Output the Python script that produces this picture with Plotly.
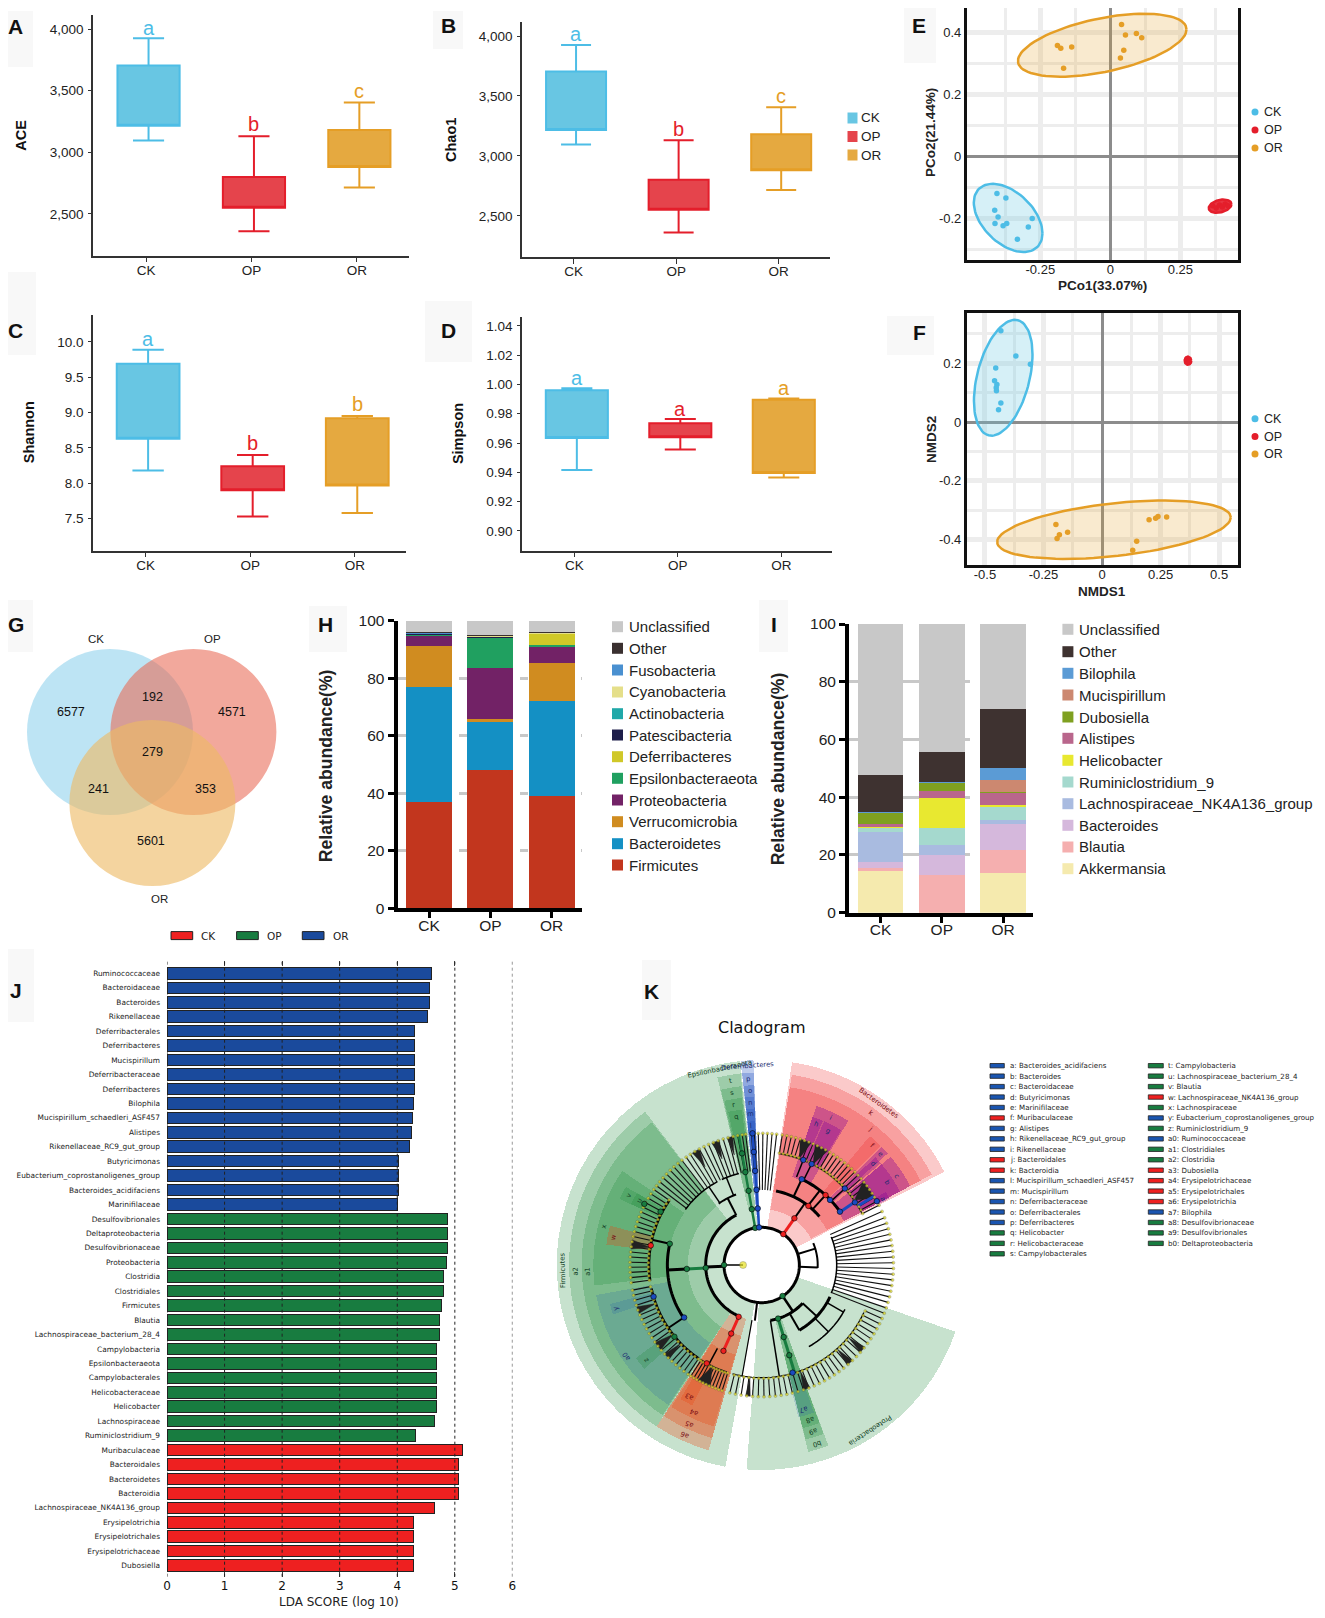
import math
import plotly.graph_objects as go

W, H = 1325, 1618
PAGE_MARGIN = 8
groups = ["CK", "OP", "OR"]
C_CK, C_OP, C_OR = "#4DBDE6", "#E41E2B", "#E59E26"
FILL = {"CK": "#68C6E3", "OP": "#E5444C", "OR": "#E5A940"}
LINE = {"CK": C_CK, "OP": C_OP, "OR": C_OR}

# ---- A-D box panels
ace_q1 = [3215, 2550, 2880]; ace_q3 = [3705, 2800, 3180]; ace_lo = [3095, 2360, 2715]; ace_hi = [3925, 3130, 3405]
ace_letters = ["a", "b", "c"]; ace_letter_y = [4012, 3226, 3500]
chao_q1 = [3215, 2550, 2880]; chao_q3 = [3705, 2800, 3180]; chao_lo = [3095, 2360, 2715]; chao_hi = [3925, 3130, 3405]
chao_letters = ["a", "b", "c"]; chao_letter_y = [4013, 3221, 3496]
shan_q1 = [8.63, 7.90, 7.97]; shan_q3 = [9.69, 8.24, 8.92]; shan_lo = [8.18, 7.53, 7.58]; shan_hi = [9.89, 8.40, 8.95]
shan_letters = ["a", "b", "b"]; shan_letter_y = [10.04, 8.57, 9.12]
simp_q1 = [0.9635, 0.964, 0.9395]; simp_q3 = [0.996, 0.9735, 0.9895]; simp_lo = [0.9415, 0.9555, 0.9365]; simp_hi = [0.9975, 0.9765, 0.9905]
simp_letters = ["a", "a", "a"]; simp_letter_y = [1.0045, 0.9835, 0.9978]

# ---- E/F ordination points
pcoa_ck_x = [-.405, -.373, -.413, -.401, -.412, -.383, -.370, -.293, -.279, -.332]
pcoa_ck_y = [-.118, -.133, -.172, -.194, -.215, -.222, -.215, -.226, -.199, -.266]
pcoa_or_x = [.040, .054, .093, .112, .048, .036, -.189, -.177, -.138, -.167]
pcoa_or_y = [.427, .393, .398, .384, .344, .319, .359, .350, .354, .286]
pcoa_op_x = [.365, .378, .39, .40, .41, .42]
pcoa_op_y = [-.158, -.165, -.155, -.162, -.152, -.158]
nmds_ck_x = [-.432, -.368, -.306, -.454, -.459, -.449, -.452, -.451, -.432, -.442]
nmds_ck_y = [.311, .225, .197, .184, .141, .128, .117, .107, .065, .042]
nmds_or_x = [-.197, -.182, -.192, -.147, .148, .131, .201, .229, .239, .276]
nmds_or_y = [-.348, -.383, -.396, -.375, -.405, -.436, -.332, -.327, -.321, -.323]
nmds_op_x = [.362, .369, .372]
nmds_op_y = [.214, .209, .205]
# confidence ellipses: centre x, centre y, half-width, half-height, correlation
pcoa_ell = {"CK": (-.365, -.197, .1226, .110, -.45), "OP": (.392, -.159, .0405, .0213, .3), "OR": (-.029, .360, .301, .1016, .5)}
nmds_ell = {"CK": (-.422, .151, .125, .197, .4), "OP": (.367, .209, .014, .014, 0), "OR": (.051, -.366, .499, .0993, .42)}

# ---- G Venn
venn_counts = ["6577", "192", "4571", "279", "241", "353", "5601"]

# ---- H phylum stack (bottom to top)
phylum_names = ["Firmicutes", "Bacteroidetes", "Verrucomicrobia", "Proteobacteria", "Epsilonbacteraeota", "Deferribacteres",
                "Patescibacteria", "Actinobacteria", "Cyanobacteria", "Fusobacteria", "Other", "Unclassified"]
phylum_colors = ["#C2361E", "#1490C4", "#D08C20", "#722266", "#20A060", "#D0C828", "#1E1E4A", "#20A8A8", "#E5DF8A", "#4A90D0", "#3A3030", "#C8C8C8"]
phylum_ck = [36.8, 40.3, 14.2, 3.5, .5, .1, .1, .2, .1, .05, .05, 4.1]
phylum_op = [48.1, 16.8, .8, 18, 10.4, .3, .2, .1, .1, .1, .3, 4.8]
phylum_or = [38.9, 33.1, 13.4, 5.8, .3, 4.2, .05, .05, .05, .05, .1, 4.0]

# ---- I genus stack (bottom to top)
genus_names = ["Akkermansia", "Blautia", "Bacteroides", "Lachnospiraceae_NK4A136_group", "Ruminiclostridium_9", "Helicobacter",
               "Alistipes", "Dubosiella", "Mucispirillum", "Bilophila", "Other", "Unclassified"]
genus_colors = ["#F5EAAE", "#F5AFAF", "#D5B8DC", "#A9BBE0", "#A5D9CE", "#E8E830", "#B9668C", "#7FA020", "#CC8870", "#5B9BD5", "#3E3230", "#C8C8C8"]
genus_ck = [14.3, 1.3, 1.9, 10.4, 1.5, .3, 1.1, 3.9, .1, .1, 12.7, 52.4]
genus_op = [.05, 13.15, 6.7, 3.7, 5.6, 10.5, 2.6, 2.8, .1, .1, 10.4, 44.3]
genus_or = [13.6, 8, 9, 1.5, 4.8, .4, 4.4, .15, 4.25, 4.1, 20.2, 29.6]

# ---- J LDA
lda_names = ["Ruminococcaceae", "Bacteroidaceae", "Bacteroides", "Rikenellaceae", "Deferribacterales", "Deferribacteres", "Mucispirillum",
             "Deferribacteraceae", "Deferribacteres", "Bilophila", "Mucispirillum_schaedleri_ASF457", "Alistipes", "Rikenellaceae_RC9_gut_group",
             "Butyricimonas", "Eubacterium_coprostanoligenes_group", "Bacteroides_acidifaciens", "Marinifilaceae",
             "Desulfovibrionales", "Deltaproteobacteria", "Desulfovibrionaceae", "Proteobacteria", "Clostridia", "Clostridiales", "Firmicutes",
             "Blautia", "Lachnospiraceae_bacterium_28_4", "Campylobacteria", "Epsilonbacteraeota", "Campylobacterales", "Helicobacteraceae",
             "Helicobacter", "Lachnospiraceae", "Ruminiclostridium_9",
             "Muribaculaceae", "Bacteroidales", "Bacteroidetes", "Bacteroidia", "Lachnospiraceae_NK4A136_group", "Erysipelotrichia",
             "Erysipelotrichales", "Erysipelotrichaceae", "Dubosiella"]
lda_vals = [4.59, 4.555, 4.555, 4.53, 4.30, 4.30, 4.30, 4.30, 4.30, 4.285, 4.27, 4.255, 4.215, 4.03, 4.025, 4.02, 4.005,
            4.88, 4.88, 4.87, 4.86, 4.81, 4.81, 4.765, 4.74, 4.74, 4.68, 4.68, 4.68, 4.68, 4.68, 4.65, 4.32,
            5.135, 5.06, 5.06, 5.06, 4.65, 4.285, 4.285, 4.285, 4.275]
lda_groups = ["OR"] * 17 + ["OP"] * 16 + ["CK"] * 9
LDA_COL = {"CK": "#EE2020", "OP": "#187C40", "OR": "#1A4A9C"}

# ---- K cladogram (r in ring units, theta in degrees clockwise from north)
ring_in = [112, 168, 222, 280, 338, 395]
ring_out = [615, 578, 540, 505, 470, 432]
clade_wedges = [("OP", 0, 268.3, 156.2), ("OP", 0, 146.6, 75.2), ("CK", 0, 35.75, 54.5), ("OP", 0, 350.2, 7.6), ("OR", 0, 355.9, 3.6),
                ("OP", 1, 267.9, 109.7), ("CKg", 1, 204.5, 17), ("CK", 1, 35.5, 53), ("OP", 1, 350.2, 7), ("OR", 1, 355.9, 3.4), ("OP", 1, 162.9, 6.3),
                ("OP", 2, 267.9, 109), ("CKg", 2, 204.5, 17), ("CK", 2, 35.5, 53), ("OP", 2, 350.2, 6.6), ("OR", 2, 355.9, 3.2), ("OP", 2, 162.9, 6),
                ("OP", 3, 283.5, 41), ("ORg", 3, 236.7, 46), ("CKg", 3, 204.5, 16), ("ORr", 3, 25, 12), ("CK", 3, 42.5, 5), ("ORr", 3, 47, 3),
                ("ORr", 3, 56, 12), ("OR", 3, 355.9, 3), ("OP", 3, 350.2, 6), ("OP", 3, 162.9, 6),
                ("OP", 4, 297.4, 5), ("CKg", 4, 281, 7), ("ORg", 4, 253.6, 4), ("OP", 4, 231, 5), ("CKg", 4, 208.8, 5), ("ORr", 4, 27, 7), ("ORr", 4, 21, 4),
                ("ORr", 4, 48, 3), ("ORr", 4, 56, 12), ("OP", 4, 350.2, 5), ("OR", 4, 355.9, 3), ("ORg", 4, 163.5, 6),
                ("OP", 5, 297.5, 5), ("ORr", 5, 61, 3), ("OR", 5, 355.8, 3)]
clade_labels = [("Bacteroidetes", 35.8, 598, "CK"), ("k", 35.6, 562, "CK"), ("j", 38.8, 523, "CK"), ("f", 42.9, 489, "CK"), ("e", 46.9, 486, "OR"),
                ("d", 47.9, 452, "OR"), ("c", 56.9, 486, "OR"), ("b", 56.5, 450, "OR"), ("a", 61.3, 414, "OR"), ("i", 25.2, 489, "OR"), ("h", 21.1, 452, "OR"),
                ("g", 26.4, 450, "OR"), ("t", 350.3, 561, "OP"), ("s", 350.1, 525, "OP"), ("r", 350, 488, "OP"), ("q", 350.2, 452, "OP"),
                ("p", 355.9, 559, "OR"), ("o", 356, 524, "OR"), ("n", 355.8, 488, "OR"), ("m", 355.7, 453, "OR"), ("l", 355.7, 417, "OR"),
                ("Epsilonbacteraeota", 348, 600, "OP"), ("Deferribacteres", 355.9, 600, "OR"), ("Firmicutes", 268.4, 598, "OP"), ("a2", 268, 560, "OP"),
                ("a1", 268, 522, "OP"), ("v", 297.4, 450, "OP"), ("u", 297.7, 416, "OP"), ("x", 283.8, 486, "OP"), ("w", 280.6, 451, "CK"), ("y", 253.4, 456, "OR"),
                ("a0", 236.2, 490, "OR"), ("z", 230.6, 449, "OP"), ("a3", 208.8, 451, "CK"), ("a4", 204.6, 487, "CK"), ("a5", 204.7, 523, "CK"), ("a6", 204.6, 560, "CK"),
                ("a7", 164.1, 450, "OR"), ("a8", 162.6, 485, "OP"), ("a9", 162.8, 523, "OP"), ("b0", 162.9, 560, "OP"), ("Proteobacteria", 146.8, 594, "OP")]
tips_genus = [262.3, 264.5, 266.8, 269, 271.2, 273.5, 275.7, 278, 280.2, 282.5, 284.7, 287, 289.2, 291.5, 293.7, 296, 298.2, 300.5, 302.7, 305,
              214, 216.2, 218.5, 220.7, 223, 225.2, 227.5, 229.7, 232, 234.2, 236.5, 238.7, 241, 243.2, 245.5, 247.7, 250, 252.2, 254.5, 256.7, 259,
              197.5, 199, 200.5, 202, 203.5, 205, 206.5, 208, 209.5, 211, 212.5,
              9, 11, 13, 15, 17, 19, 21, 23, 25, 27, 29, 31, 33, 35, 37, 39, 41, 43, 45, 47, 49, 51, 53, 55, 57, 59, 61, 63,
              114, 116.5, 119, 121.5, 124, 126.5, 129, 131.5, 134, 136.5, 139, 141.5, 144, 146.5, 149, 151.5, 154, 156.5, 159, 161.5, 164,
              166.5, 169, 171.5, 174, 176.5, 179, 181.5, 184, 186.5, 189, 191.5, 194]
tips_family = [307, 309.2, 311.5, 313.7, 316, 318.2, 320.5, 322.7, 325, 327.2, 329.5, 331.7, 334, 336.2, 338.5, 340.7, 343, 345.2, 347.5, 349.5, 351.5, 353, 355.5, 356.8]
tips_long = [358.5, .5, 2.5, 4.5, 6.5, 66, 69, 71.5, 74, 76.5, 79, 81.5, 84, 86.5, 89, 91.5, 94, 96.5, 99, 101.5, 104, 106.5, 109, 111.5]
fans = [(330, 3.5), (339.5, 3.5), (346, 2.5), (279, 4), (250, 3), (232, 4), (226, 3), (206, 6), (19.5, 5), (27, 6), (55, 9), (130, 3), (138, 3), (160, 3), (186, 2)]
arcs = [(113, 0, 360, 3), (168, 204, 333, 3), (168, 133, 171, 3), (168, 67, 93, 2), (226, 11, 50, 3), (284, 25, 57, 3), (283, 236, 283, 3),
        (338, 262, 305, 2.5), (338, 214, 258, 2.5), (226, 115, 150, 3), (225, 325, 340, 2), (283, 306, 332, 1.5), (283, 335, 346, 1.5),
        (338, 198, 213, 1.5), (225, 68, 112, 1.5), (283, 118, 150, 1.5), (338, 115, 195, 1.2), (338, 9, 24, 1.2), (338, 28, 63, 1.2)]
spokes = [(270, 56, 113, 1.5), (268, 113, 168, 3), (146, 113, 168, 2.5), (73, 113, 168, 2), (92.5, 113, 168, 2), (187, 113, 168, 2),
          (35, 171, 226, 2), (38, 226, 284, 2), (42.4, 226, 284, 2), (267, 225, 283, 3), (283, 283, 338, 2), (236, 283, 338, 2), (333, 168, 225, 2),
          (326, 225, 283, 1.5), (338, 225, 283, 1.5), (133, 168, 226, 2), (150, 168, 226, 2), (171, 168, 338, 1.5), (120, 226, 283, 1.5), (135, 226, 283, 1.5),
          (25, 226, 284, 2), (21.6, 284, 338, 1.5), (26.3, 284, 338, 1.5), (47.4, 284, 338, 1.5), (190, 168, 338, 1.2), (208, 283, 338, 1.5)]
coloured_edges = [("CK", 35, 113, 171, 3), ("CK", 204, 170, 283, 3), ("OP", 267, 168, 225, 3), ("OP", 350, 113, 396, 2.5), ("OR", 356, 113, 396, 2.5),
                  ("OP", 163, 168, 338, 3), ("OR", 55.9, 284, 337, 3), ("OR", 58.5, 337, 395, 3)]
big_nodes = [("CK", 35, 113), ("CK", 35, 171), ("CK", 38.3, 226), ("CK", 42.4, 284), ("OR", 25, 284), ("OR", 21.6, 339), ("OR", 26.3, 338), ("OR", 47.4, 339),
             ("OR", 46.4, 283), ("OR", 55.7, 284), ("OR", 56.1, 337), ("OR", 61, 395), ("OP", 283, 283), ("CK", 280, 338), ("OP", 297.5, 397), ("OP", 297.8, 343),
             ("OR", 235.9, 281), ("OR", 253.7, 338), ("OP", 230.6, 339), ("CK", 209.2, 338), ("OP", 270, 113), ("OP", 267, 168), ("OP", 267, 225), ("CK", 204, 170),
             ("CK", 204, 225), ("CK", 204, 282), ("OP", 350, 113), ("OP", 350, 170), ("OP", 350, 226), ("OP", 350, 283), ("OP", 350, 340), ("OR", 356, 113),
             ("OR", 356, 170), ("OR", 356, 226), ("OR", 356, 283), ("OR", 356, 340), ("OR", 356, 396), ("OP", 146, 112), ("OP", 163, 168), ("OP", 163, 226),
             ("OP", 163, 283), ("OR", 164, 336)]
legend_k_1 = [("a: Bacteroides_acidifaciens", "OR"), ("b: Bacteroides", "OR"), ("c: Bacteroidaceae", "OR"), ("d: Butyricimonas", "OR"), ("e: Marinifilaceae", "OR"),
              ("f: Muribaculaceae", "CK"), ("g: Alistipes", "OR"), ("h: Rikenellaceae_RC9_gut_group", "OR"), ("i: Rikenellaceae", "OR"), ("j: Bacteroidales", "CK"),
              ("k: Bacteroidia", "CK"), ("l: Mucispirillum_schaedleri_ASF457", "OR"), ("m: Mucispirillum", "OR"), ("n: Deferribacteraceae", "OR"), ("o: Deferribacterales", "OR"),
              ("p: Deferribacteres", "OR"), ("q: Helicobacter", "OP"), ("r: Helicobacteraceae", "OP"), ("s: Campylobacterales", "OP")]
legend_k_2 = [("t: Campylobacteria", "OP"), ("u: Lachnospiraceae_bacterium_28_4", "OP"), ("v: Blautia", "OP"), ("w: Lachnospiraceae_NK4A136_group", "CK"),
              ("x: Lachnospiraceae", "OP"), ("y: Eubacterium_coprostanoligenes_group", "OR"), ("z: Ruminiclostridium_9", "OP"), ("a0: Ruminococcaceae", "OR"),
              ("a1: Clostridiales", "OP"), ("a2: Clostridia", "OP"), ("a3: Dubosiella", "CK"), ("a4: Erysipelotrichaceae", "CK"), ("a5: Erysipelotrichales", "CK"),
              ("a6: Erysipelotrichia", "CK"), ("a7: Bilophila", "OR"), ("a8: Desulfovibrionaceae", "OP"), ("a9: Desulfovibrionales", "OP"), ("b0: Deltaproteobacteria", "OP")]

SANS = "Liberation Sans"
DJV = "DejaVu Sans"
fig = go.Figure()
ann, shapes, layout = [], [], {}
FW, FH = W - 2 * PAGE_MARGIN, H - 2 * PAGE_MARGIN


def PX(x):
    return (x - PAGE_MARGIN) / FW


def PY(y):
    return 1 - (y - PAGE_MARGIN) / FH


def text(x, y, s, size=13, color="#222", family=SANS, bold=False, angle=0, xa="center"):
    if xa == "left":
        x -= 2
    ann.append(dict(x=PX(x), y=PY(y), xref="paper", yref="paper", text=f"<b>{s}</b>" if bold else s, showarrow=False,
                    font=dict(family=family, size=size, color=color), textangle=angle, xanchor=xa, yanchor="middle"))


def rect(x0, y0, x1, y1, fill, line=None, lw=0, layer="below"):
    shapes.append(dict(type="rect", xref="paper", yref="paper", x0=PX(x0), x1=PX(x1), y0=PY(y0), y1=PY(y1), fillcolor=fill,
                       line=dict(color=line or fill, width=lw), layer=layer))


def dot(x, y, r, fill, opacity=1, layer="above"):
    shapes.append(dict(type="circle", xref="paper", yref="paper", x0=PX(x - r), x1=PX(x + r), y0=PY(y + r), y1=PY(y - r), fillcolor=fill,
                       line=dict(width=0), opacity=opacity, layer=layer))


def axes(i, left, right, top, bottom, xr, yr, xaxis, yaxis):
    s = "" if i == 1 else str(i)
    layout["xaxis" + s] = dict(domain=[PX(left), PX(right)], range=xr, anchor="y" + s, automargin=False, **xaxis)
    layout["yaxis" + s] = dict(domain=[PY(bottom), PY(top)], range=yr, anchor="x" + s, automargin=False, **yaxis)
    return ("x" + s, "y" + s)


tiles = [(4, 11, 33, 67, "A", 15, 26), (433, 11, 463, 49, "B", 448, 25), (0, 272, 36, 355, "C", 15, 331), (425, 301, 472, 362, "D", 448, 331),
         (904, 6, 936, 63, "E", 919, 25), (887, 316, 934, 355, "F", 919, 332), (0, 600, 33, 652, "G", 15.5, 625), (309, 606, 347, 652, "H", 325.7, 624),
         (759, 600, 788, 652, "I", 774, 624), (4, 949, 34, 1022, "J", 15.5, 990), (642, 960, 671, 1020, "K", 651, 991)]
for x0, y0, x1, y1, s, tx, ty in tiles:
    rect(x0, y0, x1, y1, "#F8F8F8")
    text(tx, ty, s, size=21, color="#111", bold=True)


def box_panel(i, left, right, top, bottom, xr, yr, tickvals, fmt, offset, bw, q1, q3, lo, hi, letters, ly, title, tx, ty):
    xa = dict(tickmode="array", tickvals=[0, 1, 2], ticktext=groups, showline=True, linecolor="#333", linewidth=1.5, ticks="outside", ticklen=5,
              tickwidth=1.3, tickcolor="#333", showgrid=False, zeroline=False, tickfont=dict(family=SANS, size=13.5, color="#222"), ticklabelstandoff=-4)
    ya = dict(tickmode="array", tickvals=tickvals, tickformat=fmt, showline=True, linecolor="#333", linewidth=1.5, ticks="outside", ticklen=3,
              tickwidth=1.3, tickcolor="#333", showgrid=False, zeroline=False, tickfont=dict(family=SANS, size=13.5, color="#222"), ticklabelstandoff=2)
    x, y = axes(i, left, right, top, bottom, xr, yr, xa, ya)
    for k, g in enumerate(groups):
        fig.add_trace(go.Box(x=[k + offset], q1=[q1[k]], median=[q1[k]], q3=[q3[k]], lowerfence=[lo[k]], upperfence=[hi[k]], width=bw, whiskerwidth=.5,
                             fillcolor=FILL[g], line=dict(color=LINE[g], width=2), boxpoints=False, showlegend=False, xaxis=x, yaxis=y, name=g))
        ann.append(dict(x=k + offset, y=ly[k], xref=x, yref=y, text=letters[k], showarrow=False, font=dict(family=SANS, size=20, color=LINE[g]),
                        xanchor="center", yanchor="middle"))
    text(tx, ty, title, size=14.5, color="#111", bold=True, angle=-90)


box_panel(1, 93, 409, 14.5, 255.6, [-.503, 2.495], [2162, 4118], [2500, 3000, 3500, 4000], ",d", .024, .59, ace_q1, ace_q3, ace_lo, ace_hi, ace_letters, ace_letter_y, "ACE", 20.7, 135)
box_panel(2, 522, 829.5, 22, 256.8, [-.503, 2.495], [2158, 4117], [2500, 3000, 3500, 4000], ",d", .024, .585, chao_q1, chao_q3, chao_lo, chao_hi, chao_letters, chao_letter_y, "Chao1", 451, 140)
box_panel(3, 93, 406, 315, 550.7, [-.503, 2.49], [7.046, 10.38], [7.5, 8, 8.5, 9, 9.5, 10], ".1f", .024, .6, shan_q1, shan_q3, shan_lo, shan_hi, shan_letters, shan_letter_y, "Shannon", 28.7, 432.5)
box_panel(4, 522, 832, 316.9, 550.7, [-.506, 2.49], [.8864, 1.0462], [.90, .92, .94, .96, .98, 1.00, 1.02, 1.04], ".2f", .024, .6, simp_q1, simp_q3, simp_lo, simp_hi, simp_letters, simp_letter_y, "Simpson", 457.5, 433.6)

for k, g in enumerate(groups):
    yy = [118, 136.5, 155][k]
    rect(847.5, yy - 5.5, 857.5, yy + 5.5, FILL[g])
    text(861, yy, g, size=13.5, xa="left")


def ellipse(p):
    cx, cy, ax, ay, rho = p
    ts = [2 * math.pi * n / 90 for n in range(91)]
    xs = [cx + ax * math.cos(t) for t in ts]
    ys = [cy + ay * (rho * math.cos(t) + math.sqrt(1 - rho * rho) * math.sin(t)) for t in ts]
    return xs, ys


def ord_panel(i, top, bottom, xr, yr, xmaj, xtxt, xmin, ymaj, ytxt, ymin, pts, ell, xt, yt, xty, yty, legy):
    common = dict(showline=True, mirror=True, linecolor="#111", linewidth=2.5, showgrid=True, gridcolor="#EDEDED", gridwidth=5, zeroline=True,
                  zerolinecolor="#8C8C8C", zerolinewidth=3, ticks="", tickfont=dict(family=SANS, size=13, color="#222"))
    xa = dict(tickmode="array", tickvals=xmaj, ticktext=xtxt, ticklabelstandoff=-4, minor=dict(tickvals=xmin, showgrid=True, gridcolor="#EDEDED", gridwidth=3), **common)
    ya = dict(tickmode="array", tickvals=ymaj, ticktext=ytxt, minor=dict(tickvals=ymin, showgrid=True, gridcolor="#EDEDED", gridwidth=3), **common)
    x, y = axes(i, 966.7, 1238.3, top, bottom, xr, yr, xa, ya)
    alpha = {"CK": "rgba(104,198,227,.27)", "OP": "rgba(228,30,43,.9)", "OR": "rgba(229,158,38,.22)"}
    for g in groups:
        ex, ey = ellipse(ell[g])
        fig.add_trace(go.Scatter(x=ex, y=ey, mode="lines", fill="toself", fillcolor=alpha[g], line=dict(color=LINE[g], width=2.5), xaxis=x, yaxis=y, showlegend=False, hoverinfo="skip"))
        px_, py_ = pts[g]
        fig.add_trace(go.Scatter(x=px_, y=py_, mode="markers", marker=dict(color=LINE[g], size=5.5), xaxis=x, yaxis=y, showlegend=False, name=g))
    text(1102, xty, xt, size=13.5, color="#222", bold=True)
    text(931, yty, yt, size=13.5, color="#222", bold=True, angle=-90)
    for k, g in enumerate(groups):
        dot(1255, legy[k], 3.5, LINE[g])
        text(1264, legy[k], g, size=12.5, xa="left")


ord_panel(5, 8, 259.5, [-.513, .457], [-.331, .48], [-.25, 0, .25], ["-0.25", "0", "0.25"], [-.375, -.125, .125, .375],
          [-.2, 0, .2, .4], ["-0.2", "0", "0.2", "0.4"], [-.3, -.1, .1, .3],
          {"CK": (pcoa_ck_x, pcoa_ck_y), "OP": (pcoa_op_x, pcoa_op_y), "OR": (pcoa_or_x, pcoa_or_y)}, pcoa_ell, "PCo1(33.07%)", "PCo2(21.44%)", 286, 132, [112, 130, 148])
ord_panel(6, 312.5, 565, [-.578, .582], [-.486, .373], [-.5, -.25, 0, .25, .5], ["-0.5", "-0.25", "0", "0.25", "0.5"], [-.375, -.125, .125, .375],
          [-.4, -.2, 0, .2], ["-0.4", "-0.2", "0", "0.2"], [-.3, -.1, .1, .3],
          {"CK": (nmds_ck_x, nmds_ck_y), "OP": (nmds_op_x, nmds_op_y), "OR": (nmds_or_x, nmds_or_y)}, nmds_ell, "NMDS1", "NMDS2", 591.5, 439, [418.7, 436.6, 454])

# Venn
dot(110, 732, 83, "rgba(135,206,235,.55)", layer="below")
dot(193.4, 732, 83, "rgba(233,105,85,.58)", layer="below")
dot(152.4, 803, 83, "rgba(238,186,100,.62)", layer="below")
venn_xy = [(71, 711.7), (152, 697), (232, 711.7), (152, 752), (98.4, 788.7), (205, 788.7), (151, 840.7)]
for (vx, vy), c in zip(venn_xy, venn_counts):
    text(vx, vy, c, size=12.5, color="#111")
text(95.5, 638.7, "CK", size=11.5); text(212, 638.7, "OP", size=11.5); text(159, 898.7, "OR", size=11.5)


def stack_panel(i, left, right, top, bottom, xr, yr, names, colors, a, b, c, griddash, lx, tx, rows, title, tix):
    font = dict(family=SANS, size=15.5, color="#222")
    xa = dict(tickmode="array", tickvals=[0, 1, 2], ticktext=groups, showline=True, linecolor="#000", linewidth=4, ticks="outside", ticklen=6, tickwidth=3,
              tickcolor="#000", showgrid=False, zeroline=False, tickfont=font, ticklabelstandoff=-6)
    ya = dict(tickmode="array", tickvals=[0, 20, 40, 60, 80, 100], showline=True, linecolor="#000", linewidth=4, ticks="outside", ticklen=6, tickwidth=3,
              tickcolor="#000", showgrid=True, gridcolor="#C8C8C8", gridwidth=3, griddash=griddash, zeroline=False, tickfont=font)
    x, y = axes(i, left, right, top, bottom, xr, yr, xa, ya)
    for k, n in enumerate(names):
        fig.add_trace(go.Bar(x=[0, 1, 2], y=[a[k], b[k], c[k]], width=.75, marker=dict(color=colors[k], line=dict(width=0)), name=n, xaxis=x, yaxis=y, showlegend=False))
    for yy, n, col in zip(rows, names[::-1], colors[::-1]):
        rect(lx, yy - 5.5, lx + 11, yy + 5.5, col, layer="above")
        text(tx, yy, n, size=15, xa="left")
    text(tix, (top + bottom) / 2 + 1, title, size=17.6, color="#222", bold=True, angle=-90)


stack_panel(7, 397.5, 581.7, 620.7, 908.3, [-.514, 2.49], [0, 100], phylum_names, phylum_colors, phylum_ck, phylum_op, phylum_or, "8px,53.3px", 612, 628.7,
            [626.7, 648.3, 670, 692, 713.7, 735, 756.7, 778.3, 800, 821.7, 843.7, 865], "Relative abundance(%)", 325.7)
stack_panel(8, 849, 1033, 624, 912.7, [-.514, 2.488], [0, 100], genus_names, genus_colors, genus_ck, genus_op, genus_or, "121px,400px", 1062.4, 1079.3,
            [629.3, 651.7, 673.3, 695, 717, 738.3, 760.3, 782, 803.7, 825.3, 847, 868.7], "Relative abundance(%)", 778)

# LDA
xa = dict(tickmode="array", tickvals=[0, 1, 2, 3, 4, 5, 6], showline=False, mirror="ticks", ticks="inside", ticklen=5, tickcolor="#444", showgrid=False, zeroline=False,
          tickfont=dict(family=DJV, size=12, color="#111"))
ya = dict(tickmode="array", tickvals=list(range(len(lda_names))), ticktext=lda_names, showline=False, ticks="", showgrid=False, zeroline=False,
          tickfont=dict(family=DJV, size=7.4, color="#222"), ticklabelstandoff=6)
x9, y9 = axes(9, 167, 512.4, 961, 1576.7, [0, 6], [41.77, -.859], xa, ya)
fig.add_trace(go.Bar(x=lda_vals, y=list(range(len(lda_vals))), orientation="h", width=.8, marker=dict(color=[LDA_COL[g] for g in lda_groups], line=dict(color="#222", width=1)),
                     xaxis=x9, yaxis=y9, showlegend=False))
for v in range(7):
    shapes.append(dict(type="line", xref="x9", yref="y9 domain", x0=v, x1=v, y0=0, y1=1, line=dict(color="#222", width=1, dash="dot"), layer="above"))
for g, x0, tx in (("CK", 171, 200.8), ("OP", 236.6, 266.5), ("OR", 302.3, 332.6)):
    rect(x0, 931.6, x0 + 21.7, 939.6, LDA_COL[g], line="#222", lw=1, layer="above")
    text(tx, 935.6, g, size=10.5, family=DJV, xa="left")
text(339, 1602, "LDA SCORE (log 10)", size=12, family=DJV, color="#222")

# Cladogram
CX, CY, RPX = 761.7, 1265, 640 / 3
layout["polar"] = dict(domain=dict(x=[PX(CX - RPX), PX(CX + RPX)], y=[PY(CY + RPX), PY(CY - RPX)]), bgcolor="rgba(0,0,0,0)", barmode="overlay", bargap=0,
                       radialaxis=dict(range=[0, 640], visible=False), angularaxis=dict(rotation=90, direction="clockwise", visible=False))
RGBA = {"CK": "rgba(238,32,32,.24)", "CKg": "rgba(235,70,20,.30)", "OP": "rgba(30,140,60,.25)", "OR": "rgba(26,74,190,.28)",
        "ORr": "rgba(140,10,150,.38)", "ORg": "rgba(30,90,170,.18)"}
fig.add_trace(go.Barpolar(r=[ring_out[l] - ring_in[l] for _, l, _, _ in clade_wedges], base=[ring_in[l] for _, l, _, _ in clade_wedges],
                          theta=[c for _, _, c, _ in clade_wedges], width=[w for _, _, _, w in clade_wedges],
                          marker=dict(color=[RGBA[g] for g, _, _, _ in clade_wedges], line=dict(width=0)), showlegend=False, hoverinfo="skip"))
for tips, rin, lw in ((tips_genus, 340, 1.1), (tips_family, 283, 1.1), (tips_long, 225, 1.1)):
    rr, tt = [], []
    for t in tips:
        rr += [rin, 395, None]
        tt += [t, t, None]
    fig.add_trace(go.Scatterpolar(r=rr, theta=tt, mode="lines", line=dict(color="#111", width=lw), showlegend=False, hoverinfo="skip"))
rr, tt = [], []
for t, w in fans:
    rr += [340, 395, 395, 340, None]
    tt += [t, t - w / 2, t + w / 2, t, None]
fig.add_trace(go.Scatterpolar(r=rr, theta=tt, mode="lines", fill="toself", fillcolor="#222", line=dict(color="#222", width=.5), showlegend=False, hoverinfo="skip"))
for r0, a0, a1, lw in arcs:
    n = max(2, int((a1 - a0) / 2))
    tt = [a0 + (a1 - a0) * j / n for j in range(n + 1)]
    fig.add_trace(go.Scatterpolar(r=[r0] * len(tt), theta=tt, mode="lines", line=dict(color="#000", width=lw), showlegend=False, hoverinfo="skip"))
for t, r0, r1, lw in spokes:
    fig.add_trace(go.Scatterpolar(r=[r0, r1], theta=[t, t], mode="lines", line=dict(color="#000", width=lw), showlegend=False, hoverinfo="skip"))
EDGE = {"CK": "#EE2020", "OP": "#187C40", "OR": "#1A4AC0"}
for g, t, r0, r1, lw in coloured_edges:
    fig.add_trace(go.Scatterpolar(r=[r0, r1], theta=[t, t], mode="lines", line=dict(color=EDGE[g], width=lw), showlegend=False, hoverinfo="skip"))
yr_, yt_ = [], []
for t in tips_genus + tips_family + tips_long:
    yr_ += [395]; yt_ += [t]
for t in tips_genus:
    yr_ += [340]; yt_ += [t]
fig.add_trace(go.Scatterpolar(r=yr_ + [56], theta=yt_ + [270], mode="markers", marker=dict(color="#E6E020", size=[3] * len(yr_) + [7], line=dict(color="#444", width=.4)),
                              showlegend=False, hoverinfo="skip"))
fig.add_trace(go.Scatterpolar(r=[n[2] for n in big_nodes], theta=[n[1] for n in big_nodes], mode="markers",
                              marker=dict(color=[EDGE[n[0]] for n in big_nodes], size=5.5, line=dict(color="#000", width=.6)), showlegend=False, hoverinfo="skip"))
text(CX, 1027, "Cladogram", size=16, family=DJV, color="#111")
DARK = {"CK": "#7A0A12", "OP": "#0F3D22", "OR": "#1A2A70"}
for s, th, r0, g in clade_labels:
    rad = math.radians(th)
    ang = th if th <= 180 else th - 360
    text(CX + r0 / 3 * math.sin(rad), CY - r0 / 3 * math.cos(rad), s, size=6.8, family=DJV, color=DARK[g], angle=ang)

for col, sx0, sx1, tx in ((legend_k_1, 990, 1004.3, 1010), (legend_k_2, 1148.3, 1163.3, 1168.3)):
    for k, (s, g) in enumerate(col):
        yy = 1065.7 + k * 10.45
        rect(sx0, yy - 2.2, sx1, yy + 2.2, LDA_COL[g] if g != "OR" else "#1A55B0", line="#222", lw=.8, layer="above")
        text(tx, yy, s, size=7.1, family=DJV, color="#222", xa="left")

fig.update_layout(width=FW, height=FH, margin=dict(l=0, r=0, t=0, b=0, autoexpand=False), paper_bgcolor="#FFFFFF", plot_bgcolor="rgba(0,0,0,0)", barmode="stack", boxmode="overlay",
                  showlegend=False, annotations=ann, shapes=shapes, **layout)
fig.write_html("out.html", config={"displayModeBar": False})
